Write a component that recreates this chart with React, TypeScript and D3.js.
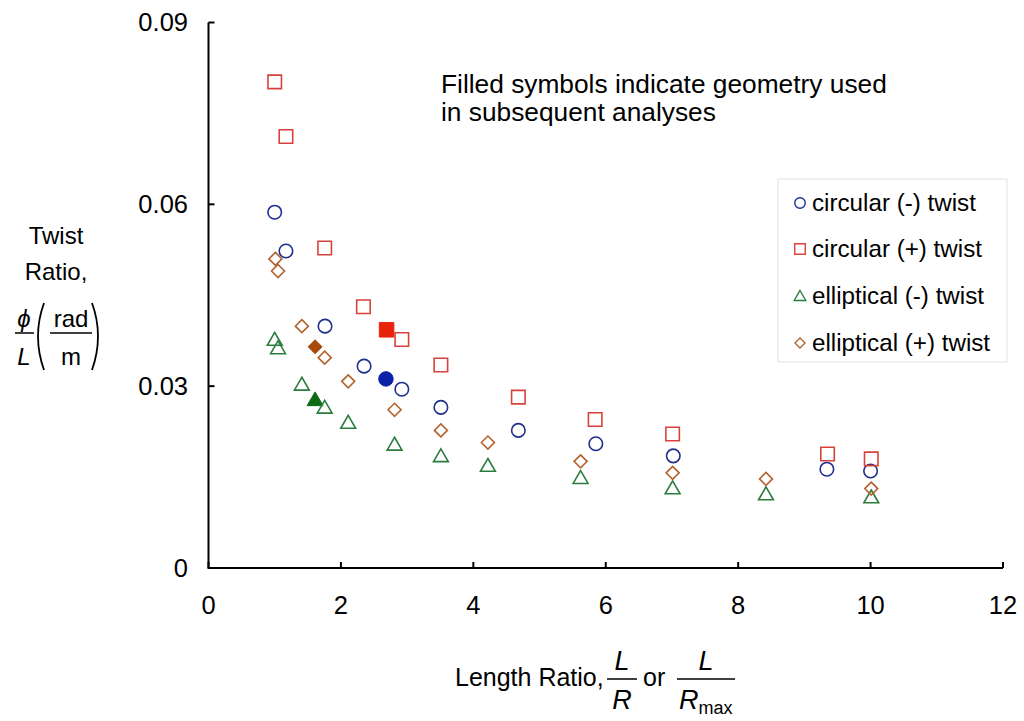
import React from "react";
import * as d3 from "d3";

const circMinusX = [1.0, 1.17, 1.76, 2.35, 2.68, 2.92, 3.51, 4.68, 5.85, 7.02, 9.34, 10.0];
const circMinusY = [0.0587, 0.0523, 0.0399, 0.0333, 0.0312, 0.0295, 0.0265, 0.0227, 0.0205, 0.0185, 0.0163, 0.016];
const circMinusFilled = [0, 0, 0, 0, 1, 0, 0, 0, 0, 0, 0, 0];

const circPlusX = [1.0, 1.17, 1.755, 2.34, 2.69, 2.92, 3.51, 4.68, 5.84, 7.01, 9.35, 10.01];
const circPlusY = [0.0802, 0.0712, 0.0528, 0.0431, 0.0393, 0.0377, 0.0335, 0.0282, 0.0245, 0.0221, 0.0188, 0.018];
const circPlusFilled = [0, 0, 0, 0, 1, 0, 0, 0, 0, 0, 0, 0];

const ellMinusX = [1.0, 1.05, 1.41, 1.61, 1.755, 2.11, 2.81, 3.51, 4.22, 5.62, 7.01, 8.42, 10.01];
const ellMinusY = [0.0377, 0.0363, 0.0303, 0.0278, 0.0265, 0.024, 0.0204, 0.0185, 0.0169, 0.0149, 0.0132, 0.0122, 0.0117];
const ellMinusFilled = [0, 0, 0, 1, 0, 0, 0, 0, 0, 0, 0, 0, 0];

const ellPlusX = [1.01, 1.05, 1.41, 1.61, 1.755, 2.11, 2.81, 3.51, 4.22, 5.62, 7.01, 8.42, 10.01];
const ellPlusY = [0.051, 0.049, 0.0399, 0.0365, 0.0347, 0.0308, 0.0261, 0.0227, 0.0207, 0.0176, 0.0157, 0.0147, 0.0131];
const ellPlusFilled = [0, 0, 0, 1, 0, 0, 0, 0, 0, 0, 0, 0, 0];

const xTicks = [0, 2, 4, 6, 8, 10, 12];
const yTicks = [0, 0.03, 0.06, 0.09];
const yTickLabels = ["0", "0.03", "0.06", "0.09"];

const seriesNames = ["circular (-) twist", "circular (+) twist", "elliptical (-) twist", "elliptical (+) twist"];

const FONT = "'Liberation Sans', Arial, Helvetica, sans-serif";

type Shape = "circle" | "square" | "triangle" | "diamond";

const series = [
  { name: seriesNames[0], xs: circMinusX, ys: circMinusY, filled: circMinusFilled, shape: "circle" as Shape, stroke: "#1f2f8c", fill: "#0b22a8" },
  { name: seriesNames[1], xs: circPlusX, ys: circPlusY, filled: circPlusFilled, shape: "square" as Shape, stroke: "#d8423c", fill: "#e8230c" },
  { name: seriesNames[2], xs: ellMinusX, ys: ellMinusY, filled: ellMinusFilled, shape: "triangle" as Shape, stroke: "#2b7d3d", fill: "#0b6b12" },
  { name: seriesNames[3], xs: ellPlusX, ys: ellPlusY, filled: ellPlusFilled, shape: "diamond" as Shape, stroke: "#b5622e", fill: "#a8490c" },
];

function symbolPath(shape: Shape, s: number): string {
  const h = s / 2;
  const p = d3.path();
  if (shape === "circle") {
    p.arc(0, 0, h, 0, Math.PI * 2);
  } else if (shape === "square") {
    p.rect(-h, -h, s, s);
  } else if (shape === "triangle") {
    p.moveTo(0, -h * 1.05);
    p.lineTo(h * 1.1, h * 0.85);
    p.lineTo(-h * 1.1, h * 0.85);
    p.closePath();
  } else {
    const d = h * 1.0;
    p.moveTo(0, -d);
    p.lineTo(d, 0);
    p.lineTo(0, d);
    p.lineTo(-d, 0);
    p.closePath();
  }
  return p.toString();
}

export default function App() {
  const x = d3.scaleLinear().domain([0, 12]).range([208.5, 1003]);
  const y = d3.scaleLinear().domain([0, 0.09]).range([568, 22.5]);

  const legendRows = [203, 249, 296, 343];

  return (
    <svg width={1024} height={721} style={{ position: "absolute", left: 0, top: 0, background: "#fff" }} fontFamily={FONT}>
      <rect x={0} y={0} width={1024} height={721} fill="#fff" />
      {/* axes */}
      <path d={`M${x(0)},${y(0.09)}V${y(0)}H${x(12)}`} fill="none" stroke="#000" strokeWidth={2} />
      {yTicks.map((t) => (
        <line key={"yt" + t} x1={x(0)} x2={x(0) + 6} y1={y(t)} y2={y(t)} stroke="#000" strokeWidth={2} />
      ))}
      {xTicks.map((t) => (
        <line key={"xt" + t} x1={x(t)} x2={x(t)} y1={y(0)} y2={y(0) - 6} stroke="#000" strokeWidth={2} />
      ))}
      {yTicks.map((t, i) => (
        <text key={"yl" + t} x={188} y={y(t)} dy="0.35em" textAnchor="end" fontSize={25.5} fill="#000">
          {yTickLabels[i]}
        </text>
      ))}
      {xTicks.map((t) => (
        <text key={"xl" + t} x={x(t)} y={605} dy="0.35em" textAnchor="middle" fontSize={25.5} fill="#000">
          {t}
        </text>
      ))}

      {/* annotation */}
      <text x={441} y={93} fontSize={26.3} fill="#000">Filled symbols indicate geometry used</text>
      <text x={441} y={121} fontSize={26.3} fill="#000">in subsequent analyses</text>

      {/* points */}
      {series.map((s) =>
        s.xs.map((xv, i) => {
          const f = s.filled[i] === 1;
          const size = s.shape === "diamond" ? 13 : 13.5;
          return (
            <path
              key={s.name + i}
              d={symbolPath(s.shape, f ? size + 1 : size)}
              transform={`translate(${x(xv)},${y(s.ys[i])})`}
              fill={f ? s.fill : "none"}
              stroke={f ? s.fill : s.stroke}
              strokeWidth={f ? 1 : 1.6}
            />
          );
        })
      )}

      {/* legend */}
      <rect x={778} y={179} width={229} height={183} fill="none" stroke="#e2e2e2" strokeWidth={1} />
      {series.map((s, i) => (
        <g key={"lg" + i}>
          <path d={symbolPath(s.shape, s.shape === "diamond" ? 10 : 10.5)} transform={`translate(800,${legendRows[i]})`} fill="none" stroke={s.stroke} strokeWidth={1.4} />
          <text x={812} y={legendRows[i]} dy="0.35em" fontSize={24.2} fill="#000">{s.name}</text>
        </g>
      ))}

      {/* y label */}
      <text x={56} y={236} dy="0.35em" textAnchor="middle" fontSize={24} fill="#000">Twist</text>
      <text x={56} y={272} dy="0.35em" textAnchor="middle" fontSize={24} fill="#000">Ratio,</text>
      <text x={24} y={327} textAnchor="middle" fontSize={24} fontStyle="italic" fill="#000">ϕ</text>
      <line x1={15} x2={34} y1={333} y2={333} stroke="#000" strokeWidth={1.5} />
      <text x={24} y={365} textAnchor="middle" fontSize={24} fontStyle="italic" fill="#000">L</text>
      <path d="M44,303 Q32,336 44,370" fill="none" stroke="#000" strokeWidth={1.8} />
      <text x={71} y={327} textAnchor="middle" fontSize={24} fill="#000">rad</text>
      <line x1={50} x2={92} y1={333} y2={333} stroke="#000" strokeWidth={1.5} />
      <text x={71} y={365} textAnchor="middle" fontSize={24} fill="#000">m</text>
      <path d="M92,303 Q104,336 92,370" fill="none" stroke="#000" strokeWidth={1.8} />

      {/* x label */}
      <text x={455} y={686} fontSize={25} fill="#000">Length Ratio,</text>
      <text x={622} y={670} textAnchor="middle" fontSize={27} fontStyle="italic" fill="#000">L</text>
      <line x1={607} x2={637} y1={679} y2={679} stroke="#000" strokeWidth={1.5} />
      <text x={622} y={709} textAnchor="middle" fontSize={27} fontStyle="italic" fill="#000">R</text>
      <text x={643} y={686} fontSize={25} fill="#000">or</text>
      <text x={706} y={670} textAnchor="middle" fontSize={27} fontStyle="italic" fill="#000">L</text>
      <line x1={677} x2={735} y1={679} y2={679} stroke="#000" strokeWidth={1.5} />
      <text x={679} y={709} fontSize={27} fill="#000">
        <tspan fontStyle="italic">R</tspan>
        <tspan fontSize={18} dy={5}>max</tspan>
      </text>
    </svg>
  );
}
